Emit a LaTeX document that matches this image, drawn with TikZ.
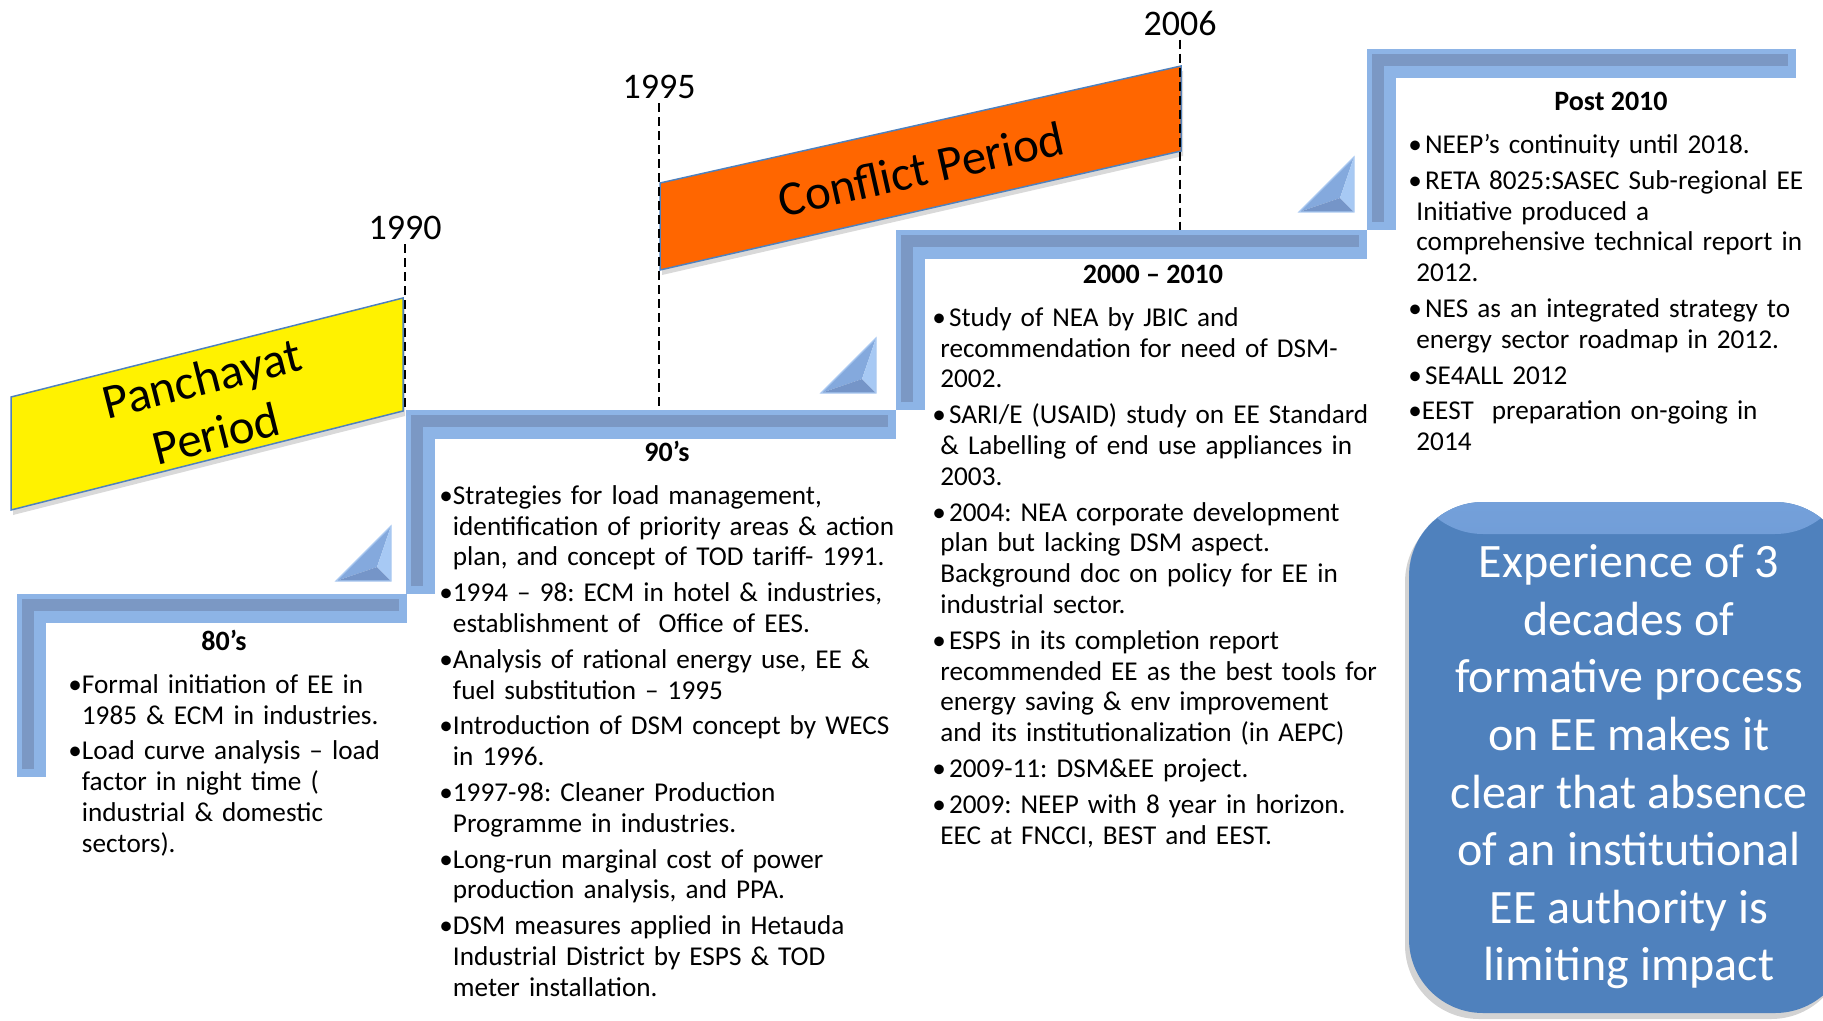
\documentclass[tikz,border=0pt]{standalone}
\usepackage{fontspec}
\setmainfont{Carlito}
\usetikzlibrary{shadows}
\frenchspacing

\definecolor{barlight}{HTML}{8DB4E6}
\definecolor{bardark}{HTML}{7B98C4}
\definecolor{baredge}{HTML}{A9C8F0}
\definecolor{pyrmid}{HTML}{84A9DD}
\definecolor{pyrdark}{HTML}{7595C8}
\definecolor{pyrlight}{HTML}{A7C9F4}
\definecolor{bannerline}{HTML}{4F81BD}
\definecolor{conflict}{HTML}{FF6600}
\definecolor{boxblue}{HTML}{4F81BD}
\definecolor{boxtop}{HTML}{74A0DA}

% bullets and continuation indents for the lists
\newcommand{\cont}{\phantom{•}}
\newcommand{\contb}{\hspace*{4pt}}
\newcommand{\pnt}{•\hspace{1.6pt}}

\begin{document}
\begin{tikzpicture}[
    x=0.5pt, y=-0.5pt,
    year/.style={font=\fontsize{18}{20}\selectfont, inner sep=2pt},
    tick/.style={line width=0.9pt, dash pattern=on 4.5pt off 2.5pt},
    heading/.style={font=\fontsize{14}{16}\selectfont\bfseries, inner sep=0pt},
    notes/.style={anchor=north west, inner sep=0pt, align=left, text width=#1,
        font=\fontsize{13.6}{15.4}\selectfont},
    banner/.style={draw=bannerline, line width=0.75pt,
        drop shadow={opacity=0.3, shadow xshift=1pt, shadow yshift=-2.5pt}},
    bannertext/.style={font=\fontsize{24.5}{28.4}\selectfont, align=center, inner sep=0pt},
    bar/.style={draw=barlight, line width=14.5pt},
    band/.style={draw=bardark, line width=6pt},
    conclbox/.style={fill=boxblue, rounded corners=37pt, minimum width=220pt,
        minimum height=255.5pt,
        drop shadow={opacity=0.35, shadow xshift=-2pt, shadow yshift=-3pt},
        path picture={\shade[top color=boxtop, bottom color=boxblue]
            (path picture bounding box.north west) rectangle
            ([yshift=-16pt]path picture bounding box.north east);}},
    concltext/.style={text=white, align=center, inner sep=0pt,
        font=\fontsize{24}{28.8}\selectfont},
]
\useasboundingbox (0,0) rectangle (1823,1021);

% staircase of the decades
\foreach \x/\y/\b/\r in {17/594/777/407, 406/410/594/896,
                         896/230/410/1367, 1367/49/230/1796} {
    \draw[bar]  ({\x+14.5},\b) -- ({\x+14.5},{\y+14.5}) -- (\r,{\y+14.5});
    \draw[band] ({\x+11},{\b-8}) -- ({\x+11},{\y+11}) -- ({\r-8},{\y+11});
}

% little pyramids under each step
\foreach \r/\b in {391/581, 876/393, 1354/212} {
    \fill[pyrmid]   ({\r-55},\b) -- (\r,{\b-55}) -- ({\r-14},{\b-14}) -- cycle;
    \fill[pyrdark]  ({\r-55},\b) -- (\r,\b) -- ({\r-14},{\b-14}) -- cycle;
    \fill[pyrlight] (\r,\b) -- (\r,{\b-55}) -- ({\r-14},{\b-14}) -- cycle;
    \draw[baredge, line width=0.6pt] ({\r-55},\b) -- (\r,\b) -- (\r,{\b-55}) -- cycle;
}

% period banners
\filldraw[banner, fill=yellow] (11,397) -- (403,298) -- (403,411) -- (11,510) -- cycle;
\filldraw[banner, fill=conflict] (660,183) -- (1181,66) -- (1181,151) -- (660,270) -- cycle;
\node[bannertext, rotate=14.17] (pantext) at (209,406) {Panchayat\\Period};
\node[bannertext, rotate=12.66] (context) at (921,169) {Conflict Period};

% years
\node[year] (y1990) at (405,228) {1990};
\node[year] (y1995) at (659,87)  {1995};
\node[year] (y2006) at (1180,23) {2006};
\coordinate (t1990) at (405,410);
\coordinate (t1995) at (659,410);
\coordinate (t2006) at (1180,230);
\draw[tick] (y1990) -- (t1990);
\draw[tick] (y1995) -- (t1995);
\draw[tick] (y2006) -- (t2006);

% decade headings
\node[heading] (h80)   at (224,640)  {80’s};
\node[heading] (h90)   at (667,451)  {90’s};
\node[heading] (h00)   at (1153,274) {2000 – 2010};
\node[heading] (hpost) at (1611,101) {Post 2010};

\node[notes=190pt] (b80) at (68,674) {%
•Formal initiation of EE in\\
\cont 1985 \& ECM in industries.\\[2.5pt]
•Load curve analysis – load\\
\cont factor in night time (\\
\cont industrial \& domestic\\
\cont sectors).};

\node[notes=240pt] (b90) at (439,485) {%
•Strategies for load management,\\
\cont identification of priority areas \& action\\
\cont plan, and concept of TOD tariff- 1991.\\[2.5pt]
•1994 – 98: ECM in hotel \& industries,\\
\cont establishment of\ \ Office of EES.\\[2.5pt]
•Analysis of rational energy use, EE \&\\
\cont fuel substitution – 1995\\[2.5pt]
•Introduction of DSM concept by WECS\\
\cont in 1996.\\[2.5pt]
•1997-98: Cleaner Production\\
\cont Programme in industries.\\[2.5pt]
•Long-run marginal cost of power\\
\cont production analysis, and PPA.\\[2.5pt]
•DSM measures applied in Hetauda\\
\cont Industrial District by ESPS \& TOD\\
\cont meter installation.};

\node[notes=240pt] (b00) at (932,307) {%
\pnt Study of NEA by JBIC and\\
\contb recommendation for need of DSM-\\
\contb 2002.\\[2.5pt]
\pnt SARI/E (USAID) study on EE Standard\\
\contb \& Labelling of end use appliances in\\
\contb 2003.\\[2.5pt]
\pnt 2004: NEA corporate development\\
\contb plan but lacking DSM aspect.\\
\contb Background doc on policy for EE in\\
\contb industrial sector.\\[2.5pt]
\pnt ESPS in its completion report\\
\contb recommended EE as the best tools for\\
\contb energy saving \& env improvement\\
\contb and its institutionalization (in AEPC)\\[2.5pt]
\pnt 2009-11: DSM\&EE project.\\[2.5pt]
\pnt 2009: NEEP with 8 year in horizon.\\
\contb EEC at FNCCI, BEST and EEST.};

\node[notes=215pt] (bpost) at (1408,134) {%
\pnt NEEP’s continuity until 2018.\\[2.5pt]
\pnt RETA 8025:SASEC Sub-regional EE\\
\contb Initiative produced a\\
\contb comprehensive technical report in\\
\contb 2012.\\[2.5pt]
\pnt NES as an integrated strategy to\\
\contb energy sector roadmap in 2012.\\[2.5pt]
\pnt SE4ALL 2012\\[2.5pt]
•EEST\ \ preparation on-going in\\
\contb 2014};

% conclusion box
\node[conclbox] (concl) at (1629,757.5) {};
\node[concltext] (conclusion) at (1629,767) {Experience of 3\\
decades of\\
formative process\\
on EE makes it\\
clear that absence\\
of an institutional\\
EE authority is\\
limiting impact};
\end{tikzpicture}
\end{document}
